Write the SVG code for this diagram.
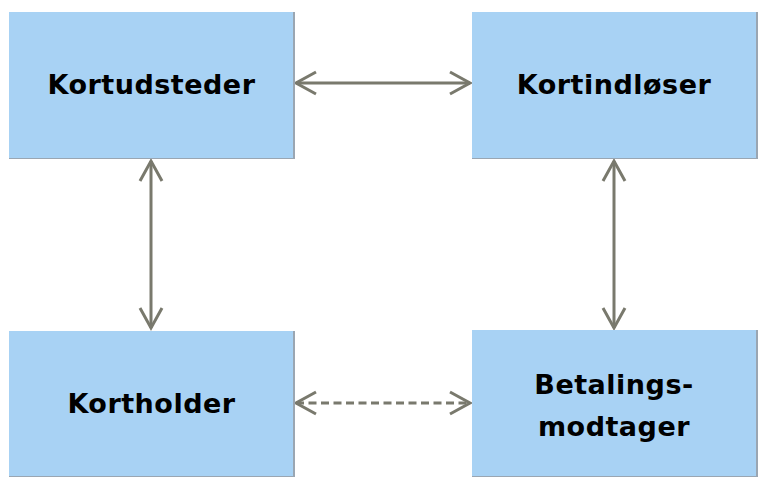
<svg xmlns="http://www.w3.org/2000/svg" width="766" height="485" viewBox="0 0 766 485">
<defs>
<style>
.box{fill:#a8d2f4}
.edge{fill:#9aa6b2}
.lbl{font-family:"DejaVu Sans",Verdana,sans-serif;font-weight:bold;font-size:27px;letter-spacing:0.5px;fill:#000;text-anchor:middle}
.con{stroke:#79796d;stroke-width:3;fill:none}
.dash{stroke-dasharray:8 4.5}
</style>
<marker id="ah" viewBox="-24 -14 28 28" markerWidth="28" markerHeight="28" refX="0" refY="0" orient="auto-start-reverse" markerUnits="userSpaceOnUse">
<path d="M-20,-11 L0,0 L-20,11" fill="none" stroke="#79796d" stroke-width="3" stroke-linejoin="miter"/>
</marker>
</defs>
<rect width="766" height="485" fill="#fff"/>
<g id="connectors">
<line class="con" x1="296" y1="83" x2="470" y2="83" marker-start="url(#ah)" marker-end="url(#ah)"/>
<line class="con" x1="151" y1="161" x2="151" y2="328" marker-start="url(#ah)" marker-end="url(#ah)"/>
<line class="con" x1="614" y1="161" x2="614" y2="328" marker-start="url(#ah)" marker-end="url(#ah)"/>
<line class="con dash" x1="296" y1="403" x2="470" y2="403" marker-start="url(#ah)" marker-end="url(#ah)"/>
</g>
<g id="kortudsteder">
<rect class="edge" x="9" y="12" width="286" height="147"/>
<rect class="box" x="9" y="12" width="284" height="146"/>
<text class="lbl" x="151.5" y="94">Kortudsteder</text>
</g>
<g id="kortindloser">
<rect class="edge" x="472" y="12" width="286" height="147"/>
<rect class="box" x="472" y="12" width="284" height="146"/>
<text class="lbl" x="614" y="94">Kortindløser</text>
</g>
<g id="kortholder">
<rect class="edge" x="9" y="331" width="286" height="146"/>
<rect class="box" x="9" y="331" width="284" height="145"/>
<text class="lbl" x="151.5" y="413">Kortholder</text>
</g>
<g id="betalingsmodtager">
<rect class="edge" x="472" y="330" width="286" height="147"/>
<rect class="box" x="472" y="330" width="284" height="146"/>
<text class="lbl" x="614" y="394">Betalings-</text>
<text class="lbl" x="614" y="436">modtager</text>
</g>
</svg>
